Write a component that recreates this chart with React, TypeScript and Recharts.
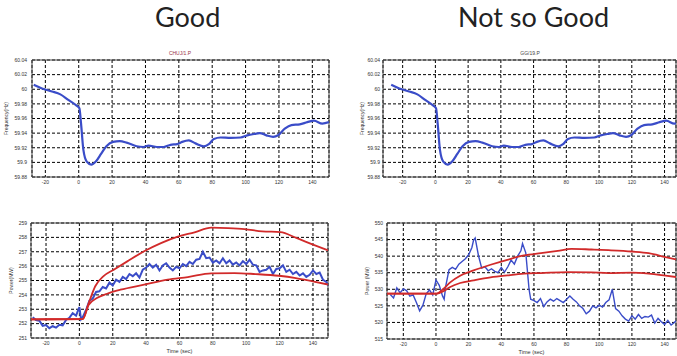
import React from "react";
import {
  CartesianGrid,
  Line,
  LineChart,
  ReferenceArea,
  XAxis,
  YAxis,
} from "recharts";

// tick sets
const timeTicks = [-20, 0, 20, 40, 60, 80, 100, 120, 140];
const freqTicks = [59.88, 59.9, 59.92, 59.94, 59.96, 59.98, 60, 60.02, 60.04];
const powerGoodTicks = [251, 252, 253, 254, 255, 256, 257, 258, 259];
const powerPoorTicks = [515, 520, 525, 530, 535, 540, 545, 550];

// system frequency (same event for both units), [time s, Hz]
const frequency = [
  [-27, 60.006], [-22, 60.001], [-16, 59.997], [-11, 59.993], [-6, 59.985],
  [-1.5, 59.978], [0.4, 59.974], [1.4, 59.953], [2.8, 59.917], [4.8, 59.901],
  [7.5, 59.897], [10.5, 59.902], [13.5, 59.912], [16.6, 59.922], [20.6, 59.928],
  [24.6, 59.929], [28.7, 59.927], [34.7, 59.922], [38.8, 59.921], [41.8, 59.923],
  [46.9, 59.921], [50.9, 59.921], [55, 59.924], [59, 59.925], [62, 59.928],
  [66, 59.93], [70, 59.926], [75, 59.922], [78, 59.925], [81, 59.932],
  [85, 59.934], [91, 59.9335], [97, 59.934], [101, 59.937], [105.5, 59.939],
  [108.5, 59.94], [112.5, 59.937], [116.5, 59.935], [119.5, 59.937], [123.5, 59.946],
  [127.5, 59.951], [132.5, 59.952], [137, 59.955], [141, 59.957], [146, 59.953],
  [150, 59.955],
];

// "Good" unit: measured power and expected envelope, [time s, MW]
const powerGood = [
  [-28, 252.45], [-26, 252.25], [-24, 252.2], [-22, 251.85], [-20, 251.9],
  [-18, 251.68], [-16, 251.82], [-14, 251.72], [-12, 251.92], [-10, 251.88],
  [-8, 252.25], [-6, 252.4], [-4, 252.72], [-2, 252.55], [0, 253.15],
  [1, 252.3], [2, 252.45], [4, 252.95], [6, 253.6], [8, 253.75],
  [10, 254.2], [12, 254.25], [14, 254.55], [16, 254.45], [18, 254.85],
  [20, 254.65], [22, 255.05], [24, 254.9], [26, 255.25], [28, 255.1],
  [30, 255.45], [32, 255.3], [34, 255.5], [36, 255.2], [38, 255.75],
  [40, 255.9], [42, 256.15], [44, 255.9], [46, 256.1], [48, 255.7],
  [50, 256.05], [52, 256.2], [54, 255.9], [56, 255.7], [58, 255.95],
  [60, 255.85], [62, 256.15], [64, 256.0], [66, 256.3], [68, 256.15],
  [70, 256.45], [72, 256.5], [74, 257.0], [76, 256.55], [78, 256.6],
  [80, 256.25], [82, 256.4], [84, 256.2], [86, 256.55], [88, 256.2],
  [90, 256.4], [92, 256.1], [94, 256.25], [96, 256.05], [98, 256.35],
  [100, 256.15], [102, 256.45], [104, 256.1], [106, 256.05], [108, 255.6],
  [110, 255.7], [112, 255.75], [114, 255.95], [116, 255.45], [118, 255.8],
  [120, 255.85], [122, 256.05], [124, 255.6], [126, 255.75], [128, 255.45],
  [130, 255.6], [132, 255.35], [134, 255.5], [136, 255.25], [138, 255.4],
  [140, 255.7], [142, 255.45], [144, 255.55], [146, 255.05], [148, 254.9],
  [150, 254.5],
];
const goodUpper = [
  [-29, 252.3], [2, 252.32], [5.5, 253.4], [9.5, 254.6], [14.5, 255.3],
  [20.6, 255.75], [28.7, 256.33], [38.8, 257.03], [48.9, 257.6], [59, 258.05],
  [69, 258.35], [79, 258.68], [89, 258.65], [99, 258.58], [109.5, 258.42],
  [120.5, 258.37], [130, 257.96], [140, 257.5], [149, 257.1],
];
const goodLower = [
  [-29, 252.3], [2, 252.32], [5.5, 253.3], [10.5, 253.78], [16.6, 254.08],
  [24.6, 254.36], [38.8, 254.71], [52.9, 255.06], [65, 255.24], [79, 255.5],
  [93, 255.52], [105.5, 255.45], [119.6, 255.33], [129.7, 255.17], [139.8, 254.94],
  [149, 254.72],
];

// "Not so Good" unit
const powerPoor = [
  [-28, 528.4], [-26, 527.4], [-24, 530.4], [-22, 528.9], [-20, 530.1],
  [-18, 529.6], [-16, 527.9], [-14, 528.3], [-12, 526.0], [-10, 523.5],
  [-8, 525.2], [-6, 528.6], [-4, 529.8], [-2, 528.3], [0, 532.8],
  [2, 531.2], [4, 528.0], [5, 527.0], [6, 531.0], [8, 535.9],
  [10, 536.6], [12, 536.0], [14, 537.6], [16, 538.4], [18, 539.2],
  [20, 540.4], [22, 542.6], [23, 544.8], [24, 545.5], [26, 540.2],
  [28, 536.4], [30, 536.8], [32, 535.6], [34, 536.2], [36, 535.4],
  [38, 535.0], [40, 536.6], [42, 535.2], [44, 536.8], [46, 538.8],
  [48, 537.6], [50, 540.0], [52, 541.6], [53, 543.8], [55, 541.0],
  [57, 530.0], [58, 527.0], [60, 526.6], [62, 526.0], [64, 527.2],
  [66, 524.8], [68, 526.2], [70, 527.0], [72, 526.4], [74, 527.2],
  [76, 526.6], [78, 526.0], [80, 527.0], [82, 528.0], [84, 527.0],
  [86, 526.2], [88, 525.0], [90, 524.2], [92, 522.6], [94, 523.4],
  [96, 525.0], [98, 524.4], [100, 525.2], [102, 524.6], [104, 526.0],
  [106, 526.8], [108, 530.0], [109, 527.0], [110, 524.2], [112, 523.4],
  [114, 522.0], [116, 521.0], [118, 520.4], [120, 522.0], [122, 521.0],
  [124, 522.4], [126, 521.2], [128, 521.8], [130, 521.6], [132, 522.2],
  [134, 519.8], [136, 521.2], [138, 520.2], [140, 519.4], [142, 520.6],
  [144, 519.2], [146, 520.0], [147, 520.5],
];
const poorUpper = [
  [-30, 528.7], [0.5, 528.7], [4.5, 530.1], [8.7, 532.1], [14.8, 534.1],
  [23, 535.7], [33.4, 537.4], [43.7, 538.9], [54, 540.2], [64.3, 540.9],
  [74.6, 541.6], [83, 542.2], [95.3, 542.0], [105.6, 541.8], [120, 541.4],
  [130.3, 540.9], [140.6, 539.7], [147, 539.0],
];
const poorLower = [
  [-30, 528.7], [0.5, 528.7], [4.5, 529.4], [8.7, 530.7], [14.8, 531.9],
  [23, 532.7], [33.4, 533.6], [43.7, 534.2], [54, 534.7], [64.3, 534.9],
  [80.8, 535.2], [95.3, 535.1], [105.6, 534.9], [120, 535.0], [130.3, 534.7],
  [140.6, 534.1], [147, 533.7],
];

const BLUE = "#3a4cc8";
const RED = "#d12a2a";
const FONT = '"Liberation Sans", Arial, sans-serif';

const toRows = (pts: number[][]) => pts.map(([t, v]) => ({ t, v }));
const fmt = (v: number) => String(parseFloat(v.toFixed(2)));

interface Series {
  data: number[][];
  color: string;
  width: number;
  type: "monotone" | "linear";
}

interface PanelProps {
  left: number;
  top: number;
  width: number;
  height: number;
  right: number;
  yAxisWidth: number;
  xAxisHeight: number;
  xDomain: [number, number];
  yDomain: [number, number];
  yTicks: number[];
  yLabel: string;
  yLabelOffset: number;
  yTickMargin: number;
  xTickMargin: number;
  xLabel?: string;
  series: Series[];
}

const Panel = (p: PanelProps) => (
  <div style={{ position: "absolute", left: p.left, top: p.top }}>
    <LineChart
      width={p.width}
      height={p.height}
      margin={{ top: 5, right: p.right, left: 0, bottom: 0 }}
    >
      <CartesianGrid stroke="#000" strokeDasharray="3 2" strokeWidth={1} />
      <XAxis
        type="number"
        dataKey="t"
        domain={p.xDomain}
        ticks={timeTicks}
        interval={0}
        allowDataOverflow
        height={p.xAxisHeight}
        tick={{ fontSize: 5, fill: "#333", fontFamily: FONT }}
        tickLine={false}
        axisLine={false}
        tickSize={0}
        tickMargin={p.xTickMargin}
        label={
          p.xLabel
            ? {
                value: p.xLabel,
                position: "insideBottom",
                offset: 3,
                style: { fontSize: 5.5, fill: "#333", fontFamily: FONT },
              }
            : undefined
        }
      />
      <YAxis
        type="number"
        domain={p.yDomain}
        ticks={p.yTicks}
        interval={0}
        allowDataOverflow
        width={p.yAxisWidth}
        tick={{ fontSize: 5, fill: "#333", fontFamily: FONT }}
        tickFormatter={fmt}
        tickLine={false}
        axisLine={false}
        tickSize={0}
        tickMargin={p.yTickMargin}
        label={{
          value: p.yLabel,
          angle: -90,
          position: "insideLeft",
          offset: p.yLabelOffset,
          style: { textAnchor: "middle", fontSize: 5, fill: "#333", fontFamily: FONT },
        }}
      />
      <ReferenceArea
        x1={p.xDomain[0]}
        x2={p.xDomain[1]}
        y1={p.yDomain[0]}
        y2={p.yDomain[1]}
        fill="none"
        stroke="#444"
        strokeWidth={1}
      />
      {p.series.map((s, i) => (
        <Line
          key={i}
          data={toRows(s.data)}
          dataKey="v"
          type={s.type}
          stroke={s.color}
          strokeWidth={s.width}
          dot={false}
          activeDot={false}
          isAnimationActive={false}
        />
      ))}
    </LineChart>
  </div>
);

const smallTitle = (text: string, x: number, color: string) => (
  <div
    style={{
      position: "absolute",
      left: x - 30,
      top: 50,
      width: 60,
      textAlign: "center",
      fontSize: 5,
      lineHeight: "6px",
      color,
      fontFamily: FONT,
    }}
  >
    {text}
  </div>
);

const bigTitle = (text: string, x: number) => (
  <div
    style={{
      position: "absolute",
      left: x,
      top: 2,
      fontSize: 27,
      lineHeight: "30px",
      color: "#222",
      fontFamily: "Lato, sans-serif",
      whiteSpace: "nowrap",
    }}
  >
    {text}
  </div>
);

export default function App() {
  return (
    <div
      style={{
        position: "absolute",
        left: 0,
        top: 0,
        width: 677,
        height: 356,
        overflow: "hidden",
        background: "#fff",
      }}
    >
      {bigTitle("Good", 155)}
      {bigTitle("Not so Good", 458)}
      {smallTitle("CHUJ/1.P", 180, "#9a3346")}
      {smallTitle("GG/19.P", 530, "#444")}

      <Panel
        left={0}
        top={55}
        width={335}
        height={134}
        right={6}
        yAxisWidth={32}
        xAxisHeight={12}
        xDomain={[-28, 150]}
        yDomain={[59.88, 60.04]}
        yTicks={freqTicks}
        yLabel="Frequency(Hz)"
        yLabelOffset={6}
        yTickMargin={5}
        xTickMargin={3}
        series={[{ data: frequency, color: BLUE, width: 2.2, type: "monotone" }]}
      />
      <Panel
        left={340}
        top={55}
        width={337}
        height={134}
        right={1}
        yAxisWidth={43}
        xAxisHeight={12}
        xDomain={[-32, 147]}
        yDomain={[59.88, 60.04]}
        yTicks={freqTicks}
        yLabel="Frequency(Hz)"
        yLabelOffset={22}
        yTickMargin={3}
        xTickMargin={3}
        series={[{ data: frequency, color: BLUE, width: 2.2, type: "monotone" }]}
      />
      <Panel
        left={0}
        top={218}
        width={334}
        height={138}
        right={6}
        yAxisWidth={31}
        xAxisHeight={18}
        xDomain={[-29, 149]}
        yDomain={[251, 259]}
        yTicks={powerGoodTicks}
        yLabel="Power(MW)"
        yLabelOffset={11}
        yTickMargin={4}
        xTickMargin={3}
        xLabel="Time (sec)"
        series={[
          { data: powerGood, color: BLUE, width: 2, type: "linear" },
          { data: goodUpper, color: RED, width: 1.8, type: "monotone" },
          { data: goodLower, color: RED, width: 1.8, type: "monotone" },
        ]}
      />
      <Panel
        left={340}
        top={218}
        width={337}
        height={139}
        right={1}
        yAxisWidth={47}
        xAxisHeight={18}
        xDomain={[-30, 147]}
        yDomain={[515, 550]}
        yTicks={powerPoorTicks}
        yLabel="Power (MW)"
        yLabelOffset={27}
        yTickMargin={4}
        xTickMargin={3}
        xLabel="Time (sec)"
        series={[
          { data: powerPoor, color: BLUE, width: 1.4, type: "linear" },
          { data: poorUpper, color: RED, width: 1.8, type: "monotone" },
          { data: poorLower, color: RED, width: 1.8, type: "monotone" },
        ]}
      />
    </div>
  );
}
